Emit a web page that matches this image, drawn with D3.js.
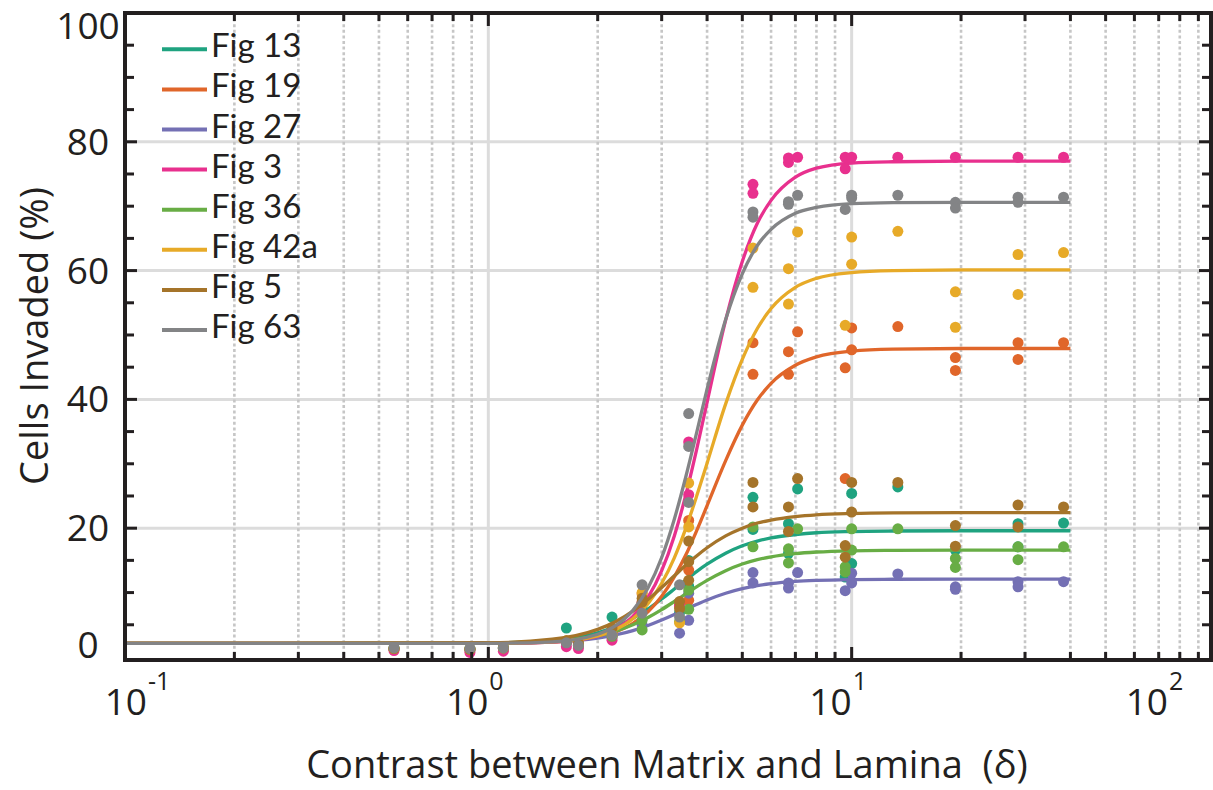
<!DOCTYPE html>
<html><head><meta charset="utf-8">
<script src="https://cdn.jsdelivr.net/npm/d3@7"></script>
<style>
body{margin:0;background:#fff}
svg text{font-family:"Open Sans",sans-serif;fill:#231f20}
svg text.leg{font-family:Lato,"Open Sans",sans-serif}
</style>
</head><body>
<svg id="chart" width="1213" height="790"></svg>
<script>
// ---------------- data ----------------
const seriesNames = ["Fig 13","Fig 19","Fig 27","Fig 3","Fig 36","Fig 42a","Fig 5","Fig 63"];
const seriesColors = ["#1fa380","#e0662a","#7470b4","#e8308e","#68ad45","#e7aa28","#a5742a","#838486"];
const yTickValues = [0,20,40,60,80,100];
const xDecadeValues = [0.1,1,10,100];
const xDecadeExponents = ["-1","0","1","2"];

// fitted curves, read at these x positions
const curveX = [0.1,1,1.5,2,2.25,2.5,2.75,3,3.25,3.5,3.75,4,4.5,5,5.5,6,7,8,10,13,20,40];
const curveFig13 = [2.1,2.18,2.59,3.76,4.75,6.0,7.45,9.0,10.55,12.0,13.3,14.4,16.1,17.27,18.0,18.5,19.0,19.29,19.48,19.56,19.6,19.6];
const curveFig19 = [2.1,2.13,2.32,3.10,3.93,5.21,7.02,9.43,12.45,15.9,19.7,23.5,30.5,36.0,39.9,42.5,45.3,46.6,47.5,47.8,47.9,47.9];
const curveFig27 = [2.1,2.14,2.35,2.94,3.45,4.1,4.88,5.73,6.59,7.43,8.18,8.85,9.89,10.6,11.07,11.38,11.73,11.89,12.02,12.07,12.1,12.1];
const curveFig3  = [2.1,2.12,2.31,3.25,4.40,6.31,9.25,13.4,18.8,25.3,32.4,39.55,52.3,61.4,67.35,70.9,74.5,75.9,76.7,76.9,77.0,77.0];
const curveFig36 = [2.1,2.16,2.46,3.32,4.06,5.0,6.13,7.36,8.62,9.82,10.92,11.89,13.4,14.43,15.11,15.56,16.06,16.3,16.49,16.56,16.6,16.6];
const curveFig42a= [2.1,2.13,2.35,3.27,4.30,5.92,8.27,11.44,15.4,20.05,25.1,30.1,39.3,46.2,51.0,54.1,57.4,58.8,59.7,60.0,60.1,60.1];
const curveFig5  = [2.1,2.21,2.75,4.29,5.55,7.13,8.92,10.79,12.6,14.27,15.73,16.96,18.8,20.0,20.8,21.26,21.8,22.08,22.28,22.37,22.4,22.4];
const curveFig63 = [2.1,2.12,2.36,3.53,4.93,7.24,10.7,15.45,21.4,28.1,35.0,41.6,52.4,59.5,63.9,66.4,68.9,69.8,70.4,70.55,70.6,70.6];

// measured points [x, y]
const ptsFig13 = [[0.55,1.4],[0.89,1.3],[1.1,1.5],[1.64,4.5],[1.77,2.3],[2.19,6.2],[2.65,7.5],[3.36,6.9],[3.56,15.0],[3.56,11.0],[5.35,24.8],[5.35,19.8],[6.7,20.7],[6.7,16.1],[7.1,26.1],[9.6,12.4],[10,25.4],[10,14.5],[13.4,26.4],[19.3,16.6],[28.7,20.7],[28.7,17.1],[38.3,20.8]];
const ptsFig19 = [[0.55,1.3],[0.89,1.2],[1.1,1.3],[1.64,2.4],[1.77,1.9],[2.19,3.2],[2.65,9.8],[3.36,8.0],[3.56,21.2],[3.56,13.5],[3.56,8.8],[5.35,48.8],[5.35,43.9],[6.7,47.4],[6.7,43.9],[7.1,50.5],[9.6,27.7],[9.6,44.9],[10,51.1],[10,47.7],[13.4,51.3],[19.3,46.5],[19.3,44.5],[28.7,48.8],[28.7,46.2],[38.3,48.8]];
const ptsFig27 = [[0.55,1.2],[0.89,1.0],[1.1,1.3],[1.64,2.2],[1.77,1.8],[2.19,3.0],[2.65,5.0],[3.36,3.7],[3.56,9.9],[3.56,5.7],[5.35,13.1],[5.35,11.5],[6.7,11.5],[6.7,10.7],[7.1,13.1],[9.6,10.3],[10,13.0],[10,11.5],[13.4,12.9],[19.3,10.9],[19.3,10.5],[28.7,11.7],[28.7,10.9],[38.3,11.7]];
const ptsFig3  = [[0.55,1.0],[0.89,0.7],[1.1,0.9],[1.64,1.6],[1.77,1.3],[2.19,2.6],[2.65,8.5],[3.36,8.0],[3.56,33.4],[3.56,25.2],[5.35,73.4],[5.35,72.0],[6.7,76.8],[6.7,77.5],[7.1,77.6],[9.6,77.6],[9.6,75.8],[10,77.6],[13.4,77.6],[19.3,77.6],[28.7,77.6],[38.3,77.6]];
const ptsFig36 = [[0.55,1.3],[0.89,1.2],[1.1,1.4],[1.64,2.3],[1.77,1.9],[2.19,3.2],[2.65,5.7],[2.65,4.2],[3.36,5.5],[3.56,10.4],[3.56,7.4],[5.35,20.2],[5.35,17.1],[6.7,16.8],[6.7,14.6],[7.1,19.9],[9.6,14.0],[9.6,13.2],[10,19.9],[10,16.6],[13.4,19.9],[19.3,15.3],[19.3,13.9],[28.7,17.1],[28.7,15.1],[38.3,17.1]];
const ptsFig42a= [[0.55,1.3],[0.89,1.2],[1.1,1.4],[1.64,2.5],[1.77,2.0],[2.19,3.5],[2.65,10.0],[3.36,5.3],[3.56,27.0],[3.56,20.2],[5.35,63.5],[5.35,57.4],[6.7,60.3],[6.7,54.8],[7.1,66.0],[9.6,51.5],[10,65.2],[10,61.0],[13.4,66.1],[19.3,56.7],[19.3,51.2],[28.7,62.5],[28.7,56.3],[38.3,62.8]];
const ptsFig5  = [[0.55,1.3],[0.89,1.2],[1.1,1.4],[1.64,2.5],[1.77,2.1],[2.19,4.5],[2.65,9.1],[2.65,8.5],[3.36,8.6],[3.36,7.5],[3.56,18.0],[3.56,14.8],[3.56,11.9],[5.35,27.1],[5.35,23.3],[6.7,23.3],[6.7,19.5],[7.1,27.7],[9.6,17.3],[9.6,15.5],[10,27.1],[10,22.5],[13.4,27.1],[19.3,20.4],[19.3,17.2],[28.7,23.6],[28.7,20.2],[38.3,23.3]];
const ptsFig63 = [[0.55,1.4],[0.89,1.3],[1.1,1.4],[1.64,2.2],[1.77,1.8],[2.19,3.4],[2.65,11.2],[2.65,6.8],[3.36,11.2],[3.36,6.2],[3.56,37.8],[3.56,32.7],[3.56,24.0],[5.35,69.1],[5.35,68.3],[6.7,70.7],[6.7,70.3],[7.1,71.7],[9.6,69.5],[10,71.7],[10,71.3],[13.4,71.7],[19.3,70.6],[19.3,69.7],[28.7,71.4],[28.7,70.6],[38.3,71.4]];

const curves = [curveFig13,curveFig19,curveFig27,curveFig3,curveFig36,curveFig42a,curveFig5,curveFig63];
const points = [ptsFig13,ptsFig19,ptsFig27,ptsFig3,ptsFig36,ptsFig42a,ptsFig5,ptsFig63];

// ---------------- layout ----------------
const L = 125, R = 1211, T = 13, B = 660;
const svg = d3.select("#chart");
const x = d3.scaleLog().domain([0.1, 97.5]).range([L, R]);
const y = d3.scaleLinear().domain([-0.47, 100]).range([B, T]);
const ink = "#231f20";

// minor x values
const xMinor = [];
[0.1,1,10].forEach(d => { for (let k=2;k<=9;k++){ const v=k*d; if (v < 97.5) xMinor.push(v);} });
const xMajorInside = xDecadeValues.filter(v => v > 0.1 && v < 97.5);

// gridlines
const grid = svg.append("g");
grid.selectAll("line.hg").data(yTickValues.filter(v => v>0 && v<100)).join("line")
  .attr("x1", L).attr("x2", R).attr("y1", d=>y(d)).attr("y2", d=>y(d))
  .attr("stroke", "#dcdcdc").attr("stroke-width", 3);
grid.selectAll("line.vd").data(xMinor).join("line")
  .attr("x1", d=>x(d)).attr("x2", d=>x(d)).attr("y1", T).attr("y2", B)
  .attr("stroke", "#c6c6c6").attr("stroke-width", 2.6).attr("stroke-dasharray", "3,2.6");
grid.selectAll("line.vs").data(xMajorInside).join("line")
  .attr("x1", d=>x(d)).attr("x2", d=>x(d)).attr("y1", T).attr("y2", B)
  .attr("stroke", "#dcdcdc").attr("stroke-width", 3);

// series
const line = d3.line().x(d=>x(d[0])).y(d=>y(d[1])).curve(d3.curveMonotoneX);
seriesNames.forEach((name, i) => {
  const g = svg.append("g");
  const data = curveX.map((cx, j) => [cx, curves[i][j]]);
  g.append("path").attr("d", line(data)).attr("fill", "none")
    .attr("stroke", seriesColors[i]).attr("stroke-width", 3.3);
  g.selectAll("circle").data(points[i]).join("circle")
    .attr("cx", d=>x(d[0])).attr("cy", d=>y(d[1])).attr("r", 5.5)
    .attr("fill", seriesColors[i]);
});

// ticks
const ticks = svg.append("g").attr("stroke", ink).attr("stroke-width", 3);
const yMinor = d3.range(5, 100, 5);
yMinor.forEach(v => {
  const len = v % 20 === 0 ? 12 : 9;
  ticks.append("line").attr("x1", L).attr("x2", L+len).attr("y1", y(v)).attr("y2", y(v));
  ticks.append("line").attr("x1", R).attr("x2", R-len).attr("y1", y(v)).attr("y2", y(v));
});
xMinor.concat(xMajorInside).forEach(v => {
  const len = xMajorInside.includes(v) ? 13 : 8;
  ticks.append("line").attr("x1", x(v)).attr("x2", x(v)).attr("y1", B).attr("y2", B-len);
  ticks.append("line").attr("x1", x(v)).attr("x2", x(v)).attr("y1", T).attr("y2", T+len);
});

// frame
svg.append("rect").attr("x", L).attr("y", T).attr("width", R-L).attr("height", B-T)
  .attr("fill", "none").attr("stroke", ink).attr("stroke-width", 4);

// y tick labels
svg.append("g").selectAll("text").data(yTickValues).join("text")
  .attr("x", 88).attr("y", d => Math.min(645, Math.max(26, y(d))) + 13)
  .attr("text-anchor", "middle").attr("font-size", 37).text(d => d);

// x tick labels
const xl = svg.append("g");
xDecadeValues.forEach((v, i) => {
  const px = Math.min(1168, Math.max(147, x(v)));
  xl.append("text").attr("x", px).attr("y", 715).attr("text-anchor", "end")
    .attr("font-size", 37).text("10");
  xl.append("text").attr("x", px + 1).attr("y", 690).attr("text-anchor", "start")
    .attr("font-size", 25).text(xDecadeExponents[i]);
});

// axis titles
svg.append("text").attr("x", 667).attr("y", 778).attr("text-anchor", "middle")
  .attr("font-size", 38).attr("xml:space", "preserve").text("Contrast between Matrix and Lamina  (δ)");
svg.append("text").attr("transform", "translate(48,336) rotate(-90)").attr("text-anchor", "middle")
  .attr("font-size", 38).text("Cells Invaded (%)");

// legend
const lg = svg.append("g");
seriesNames.forEach((name, i) => {
  const ly = 49.3 + i * 40.1;
  lg.append("line").attr("x1", 162).attr("x2", 207).attr("y1", ly).attr("y2", ly)
    .attr("stroke", seriesColors[i]).attr("stroke-width", 4);
  lg.append("text").attr("class", "leg").attr("x", 211).attr("y", ly + 8).attr("font-size", 33).text(name);
});
</script>
</body></html>
